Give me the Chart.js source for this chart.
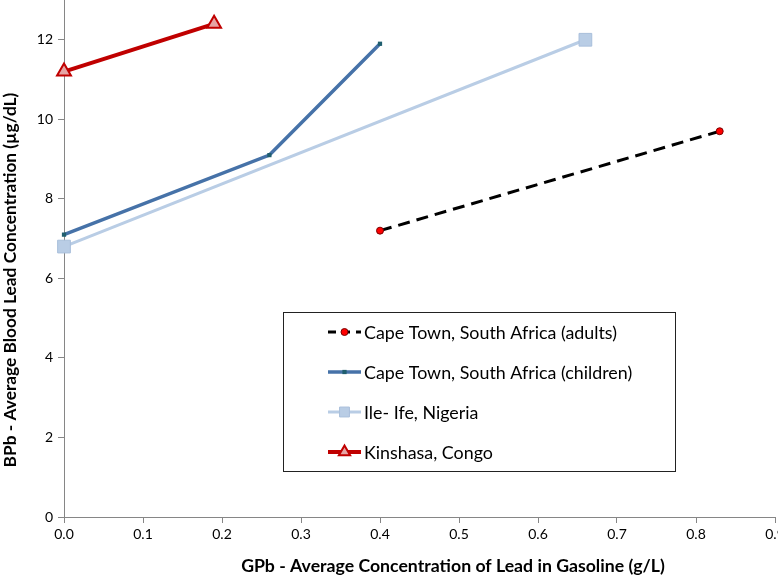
<!DOCTYPE html>
<html>
<head>
<meta charset="utf-8">
<script src="https://cdn.jsdelivr.net/npm/chart.js@4/dist/chart.umd.min.js"></script>
<style>
  html, body { margin: 0; padding: 0; background: #fff; }
  #wrap { width: 778px; height: 576px; position: relative; }
</style>
</head>
<body>
<div id="wrap"><canvas id="c" width="778" height="576"></canvas></div>
<script>
// ---- data ----
const seriesLabels = [
  'Cape Town, South Africa (adults)',
  'Cape Town, South Africa (children)',
  'Ile- Ife, Nigeria',
  'Kinshasa, Congo'
];
const adultsX = [0.4, 0.83];
const adultsY = [7.2, 9.7];
const childrenX = [0, 0.26, 0.4];
const childrenY = [7.1, 9.1, 11.9];
const ifeX = [0, 0.66];
const ifeY = [6.8, 12.0];
const kinshasaX = [0, 0.19];
const kinshasaY = [11.2, 12.4];
const xTickValues = [0, 0.1, 0.2, 0.3, 0.4, 0.5, 0.6, 0.7, 0.8, 0.9];
const yTickValues = [0, 2, 4, 6, 8, 10, 12];
const xTitle = 'GPb - Average Concentration of Lead in Gasoline (g/L)';
const yTitle = 'BPb - Average Blood Lead Concentration (µg/dL)';

const pts = (xs, ys) => xs.map((x, i) => ({ x: x, y: ys[i] }));
const FONT = 'Lato, "Open Sans", sans-serif';

const datasets = [
  {
    label: seriesLabels[0], data: pts(adultsX, adultsY),
    borderColor: '#000000', borderWidth: 3, borderDash: [12, 7],
    pointStyle: 'circle', pointRadius: 3.5, pointBackgroundColor: '#FF0000',
    pointBorderColor: '#7a0000', pointBorderWidth: 1
  },
  {
    label: seriesLabels[1], data: pts(childrenX, childrenY),
    borderColor: '#4672A8', borderWidth: 3.5,
    pointStyle: 'rect', pointRadius: 3, pointBackgroundColor: '#1F5E6E',
    pointBorderColor: '#1F5E6E', pointBorderWidth: 0
  },
  {
    label: seriesLabels[2], data: pts(ifeX, ifeY),
    borderColor: '#B9CDE5', borderWidth: 3,
    pointStyle: 'rect', pointRadius: 9, pointBackgroundColor: '#B9CDE5',
    pointBorderColor: '#A9BFDB', pointBorderWidth: 1
  },
  {
    label: seriesLabels[3], data: pts(kinshasaX, kinshasaY),
    borderColor: '#C00000', borderWidth: 4,
    pointStyle: 'triangle', pointRadius: 8, pointBackgroundColor: '#E6A5A5',
    pointBorderColor: '#C00000', pointBorderWidth: 2
  }
];
datasets.forEach(d => { d.showLine = true; d.fill = false; d.tension = 0; d.clip = false; d.pointHoverRadius = d.pointRadius; });

function fitFont(ctx, text, targetW, weight) {
  let size = 16;
  ctx.font = weight + ' ' + size + 'px ' + FONT;
  const w = ctx.measureText(text).width;
  size = size * targetW / w;
  return weight + ' ' + size.toFixed(2) + 'px ' + FONT;
}

const overlay = {
  id: 'overlay',
  afterDraw(chart) {
    const ctx = chart.ctx;
    ctx.save();
    // axis titles
    ctx.fillStyle = '#000';
    ctx.textAlign = 'center';
    ctx.textBaseline = 'middle';
    ctx.font = fitFont(ctx, xTitle, 424, 'bold');
    ctx.fillText(xTitle, 453, 566);
    ctx.save();
    ctx.translate(10, 280);
    ctx.rotate(-Math.PI / 2);
    ctx.font = fitFont(ctx, yTitle, 375, 'bold');
    ctx.fillText(yTitle, 0, 0);
    ctx.restore();

    // legend box
    const bx = 283, by = 312, bw = 392, bh = 159;
    ctx.fillStyle = '#fff';
    ctx.fillRect(bx, by, bw, bh);
    ctx.strokeStyle = '#222';
    ctx.lineWidth = 1;
    ctx.setLineDash([]);
    ctx.strokeRect(bx + 0.5, by + 0.5, bw, bh);
    const rowY = [332, 372, 412, 452];
    const textFont = fitFont(ctx, seriesLabels[0], 253, 'normal');
    chart.data.datasets.forEach((ds, i) => {
      const y = rowY[i];
      ctx.save();
      ctx.strokeStyle = ds.borderColor;
      ctx.lineWidth = ds.borderWidth;
      ctx.setLineDash(ds.borderDash ? [8, 6] : []);
      ctx.lineCap = 'butt';
      ctx.beginPath();
      ctx.moveTo(328, y);
      ctx.lineTo(361, y);
      ctx.stroke();
      ctx.setLineDash([]);
      ctx.fillStyle = ds.pointBackgroundColor;
      ctx.strokeStyle = ds.pointBorderColor;
      ctx.lineWidth = ds.pointBorderWidth;
      let r = ds.pointRadius;
      if (i === 2) r = 7;
      if (i === 3) r = 6.5;
      Chart.helpers.drawPoint(ctx, { pointStyle: ds.pointStyle, radius: r, rotation: 0, borderWidth: ds.pointBorderWidth }, 344.5, y);
      ctx.restore();
      ctx.fillStyle = '#000';
      ctx.textAlign = 'left';
      ctx.textBaseline = 'middle';
      ctx.font = textFont;
      ctx.fillText(ds.label, 364, y + 1);
    });
    ctx.restore();
  }
};

new Chart(document.getElementById('c'), {
  type: 'scatter',
  data: { datasets: datasets },
  plugins: [overlay],
  options: {
    responsive: false,
    animation: false,
    events: [],
    layout: { autoPadding: false, padding: { top: 0, right: 3, bottom: 0, left: 0 } },
    plugins: { legend: { display: false }, tooltip: { enabled: false } },
    scales: {
      x: {
        type: 'linear', min: 0, max: 0.9,
        afterBuildTicks(scale) { scale.ticks = xTickValues.map(v => ({ value: v })); },
        afterFit(scale) { scale.height = 59; scale.paddingLeft = 0; scale.paddingRight = 0; },
        ticks: {
          color: '#000', font: { family: FONT, size: 14 }, padding: 3, maxRotation: 0,
          callback: v => Number(v).toFixed(1)
        },
        grid: { display: true, drawOnChartArea: false, drawTicks: true, tickLength: 6, color: '#868686' },
        border: { display: true, color: '#868686', width: 1 }
      },
      y: {
        type: 'linear', min: 0, max: 13,
        afterBuildTicks(scale) { scale.ticks = yTickValues.map(v => ({ value: v })); },
        afterFit(scale) { scale.width = 64; scale.paddingTop = 0; scale.paddingBottom = 0; },
        ticks: { color: '#000', font: { family: FONT, size: 14 }, padding: 5, callback: v => String(v) },
        grid: { display: true, drawOnChartArea: false, drawTicks: true, tickLength: 6, color: '#868686' },
        border: { display: true, color: '#868686', width: 1 }
      }
    }
  }
});
</script>
</body>
</html>
